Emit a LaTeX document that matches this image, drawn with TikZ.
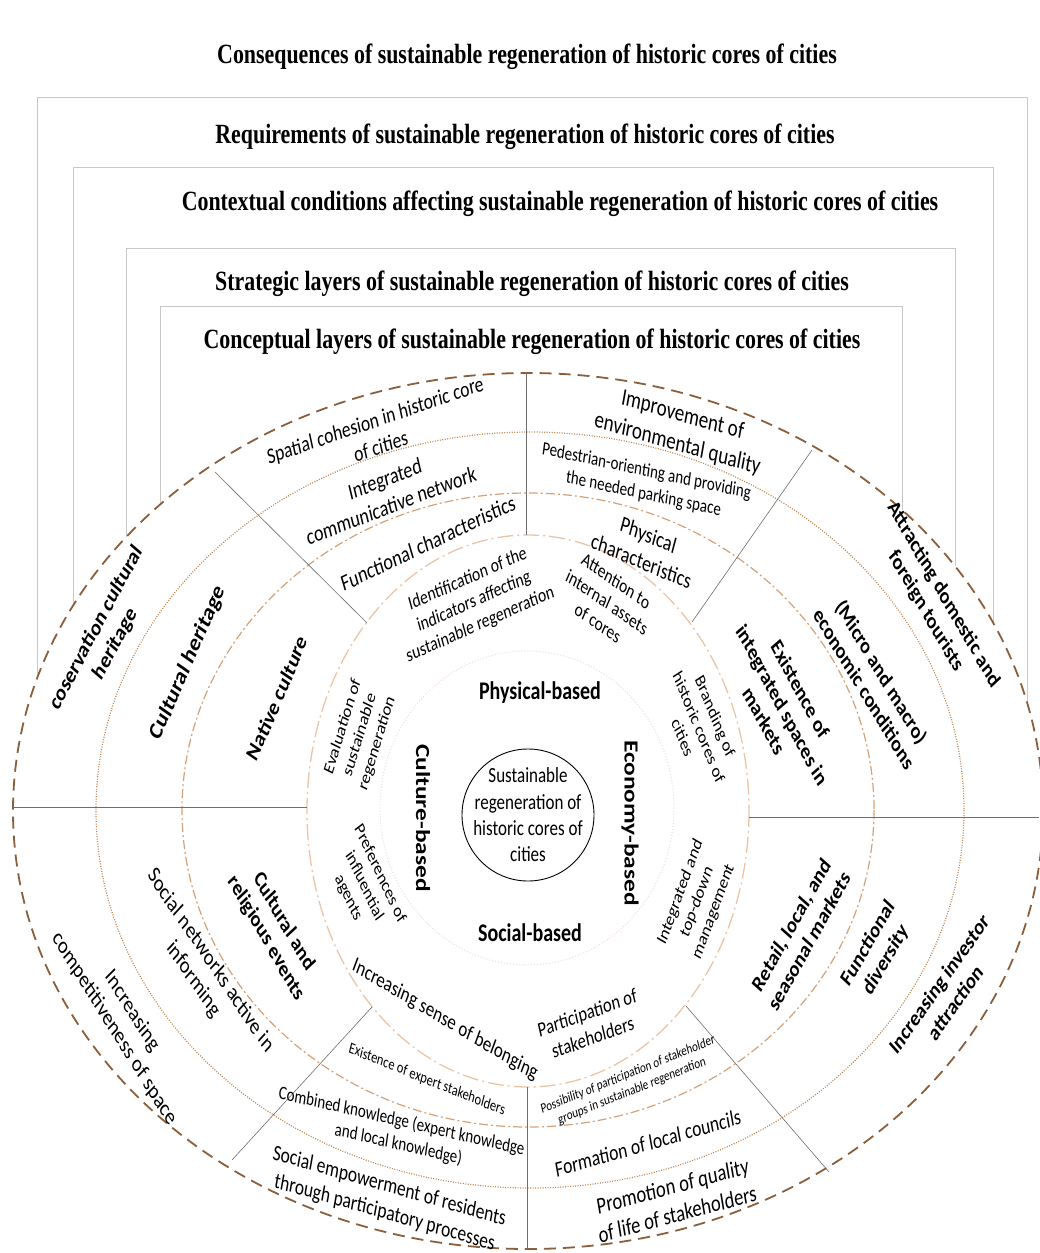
\documentclass[tikz,border=0pt]{standalone}
\usepackage{fontspec}
\setmainfont{Carlito}
\newfontfamily\titlefont{Liberation Serif}
\usepackage{tikz}

\definecolor{ringA}{RGB}{140,95,60}
\definecolor{ringB}{RGB}{190,135,85}
\definecolor{ringC}{RGB}{212,162,122}
\definecolor{ringD}{RGB}{236,196,168}
\definecolor{ringE}{RGB}{238,220,208}
\definecolor{boxgray}{RGB}{200,200,200}
\definecolor{divgray}{RGB}{110,110,110}

\begin{document}
\begin{tikzpicture}[x=1pt, y=-1pt,
    tilt/.style={yscale=1.27, rotate={atan2(sin(#1)/1.27,cos(#1))}},
    lbl/.style={align=center, inner sep=0pt, font=\fontsize{#1}{\fpeval{1.22*#1}}\selectfont},
    blbl/.style={align=center, inner sep=0pt, font=\bfseries\fontsize{#1}{\fpeval{1.22*#1}}\selectfont},
    title/.style={inner sep=0pt, yscale=1.27, font=\titlefont\bfseries\fontsize{21.9}{26}\selectfont},
    layerbox/.style={draw=boxgray, line width=0.7pt},
    divider/.style={draw=divgray, line width=0.6pt},
    outerring/.style={draw=ringA, line width=1.8pt, dash pattern=on 12pt off 7pt},
    reqring/.style={draw=ringB, line width=1.2pt, dash pattern=on 1pt off 1.5pt},
    ctxring/.style={draw=ringC, line width=1.2pt, dash pattern=on 9pt off 3pt on 2pt off 3pt},
    strring/.style={draw=ringD, line width=1.3pt, dash pattern=on 16pt off 4pt on 2pt off 4pt},
    conring/.style={draw=ringE, line width=1pt, dash pattern=on 1pt off 2pt}]

    \fill[white] (0,0) rectangle (1039,1253);
    \useasboundingbox (0,0) rectangle (1039,1253);

    % nested layer frames
    \foreach \l/\r/\t in {37/1027/97, 73/993/167, 126/955/248, 160/902/306}
        \draw[layerbox] (\l,{811-438*sqrt(1-((\l-528)/515)*((\l-528)/515))}) -- (\l,\t)
            -- (\r,\t) -- (\r,{811-438*sqrt(1-((\r-528)/515)*((\r-528)/515))});

    % layer titles
    \node[title] (t-cons) at (527,57) {Consequences of sustainable regeneration of historic cores of cities};
    \node[title] (t-req) at (525,137) {Requirements of sustainable regeneration of historic cores of cities};
    \node[title] (t-ctx) at (560,204) {Contextual conditions affecting sustainable regeneration of historic cores of cities};
    \node[title] (t-str) at (532,284) {Strategic layers of sustainable regeneration of historic cores of cities};
    \node[title] (t-con) at (532,342) {Conceptual layers of sustainable regeneration of historic cores of cities};

    % rings
    \draw[outerring] (528,811) ellipse [x radius=515, y radius=438];
    \draw[reqring] (530,810) ellipse [x radius=434, y radius=378];
    \draw[ctxring] (528,810) ellipse [x radius=346, y radius=317];
    \draw[strring] (528,811) ellipse [x radius=221, y radius=276];
    \draw[conring] (527,808) ellipse [x radius=147, y radius=157];

    % sector dividers
    \draw[divider] (367,623) -- (215,472);
    \draw[divider] (526,535) -- (526,373);
    \draw[divider] (692,622) -- (812,450);
    \draw[divider] (749,817) -- (1039,817);
    \draw[divider] (686,1006) -- (829,1172);
    \draw[divider] (527,1087) -- (527,1250);
    \draw[divider] (372,1007) -- (232,1160);
    \draw[divider] (307,807) -- (13,807);

    % core
    \node[draw, circle, minimum size=132, inner sep=0pt, line width=0.9pt] (core) at (528,815) {};
    \node[lbl=17, tilt=0] (core-txt) at (core) {Sustainable\\regeneration of\\historic cores of\\cities};

    % conceptual layer
    \node[blbl=20, tilt=0] (p-phy) at (540,693) {Physical-based};
    \node[blbl=20, tilt=-90] (p-eco) at (630,823) {Economy-based};
    \node[blbl=20, tilt=0] (p-soc) at (530,933) {Social-based};
    \node[blbl=20, tilt=-90] (p-cul) at (423,818) {Culture-based};

    % strategic layer
    \node[lbl=15.5, tilt=24] (s-tl) at (474,602) {Identification of the\\indicators affecting\\sustainable regeneration};
    \node[lbl=15.5, tilt=-35] (s-tr) at (607,602) {Attention to\\internal assets\\of cores};
    \node[lbl=15, tilt=-68] (s-r) at (699,727) {Branding of\\historic cores of\\cities};
    \node[lbl=15, tilt=70] (s-lr) at (697,902) {Integrated and\\top-down\\management};
    \node[lbl=16.5, tilt=20] (s-br) at (590,1025) {Participation of\\stakeholders};
    \node[lbl=17, tilt=-31] (s-bl) at (445,1020) {Increasing sense of belonging};
    \node[lbl=15, tilt=-65] (s-ll) at (364,886) {Preferences of\\influential\\agents};
    \node[lbl=15, tilt=73] (s-l) at (360,735) {Evaluation of\\sustainable\\regeneration};

    % contextual layer
    \node[lbl=18, tilt=25.6] (k-tl) at (428,543) {Functional characteristics};
    \node[lbl=18, tilt=-23] (k-tr) at (645,548) {Physical\\characteristics};
    \node[blbl=18, tilt=-62] (k-r) at (782,705) {Existence of\\integrated spaces in\\markets};
    \node[blbl=18, tilt=61] (k-lr) at (800,933) {Retail, local, and\\seasonal markets};
    \node[lbl=11, tilt=22] (k-br) at (630,1083) {Possibility of participation of stakeholder\\groups in sustainable regeneration};
    \node[lbl=12.5, tilt=-22] (k-bl) at (427,1080) {Existence of expert stakeholders};
    \node[blbl=18, tilt=-60] (k-ll) at (275,930) {Cultural and\\religious events};
    \node[blbl=18.5, tilt=67] (k-l) at (277,698) {Native culture};

    % requirements layer
    \node[lbl=18, tilt=21] (r-tl) at (388,492) {Integrated\\communicative network};
    \node[lbl=15, tilt=-12] (r-tr) at (645,483) {Pedestrian-orienting and providing\\the needed parking space};
    \node[blbl=18, tilt=-59] (r-r) at (873,680) {(Micro and macro)\\economic conditions};
    \node[blbl=18, tilt=60] (r-lr) at (877,952) {Functional\\diversity};
    \node[lbl=17.5, tilt=16] (r-br) at (648,1143) {Formation of local councils};
    \node[lbl=15, tilt=-13] (r-bl) at (400,1133) {Combined knowledge (expert knowledge\\and local knowledge)};
    \node[lbl=18.5, tilt=-56] (r-ll) at (202,970) {Social networks active in\\informing};
    \node[blbl=19.5, tilt=66.6] (r-l) at (188,663) {Cultural heritage};

    % consequences layer
    \node[lbl=17.5, tilt=19] (c-tl) at (378,433) {Spatial cohesion in historic core\\of cities};
    \node[lbl=19, tilt=-16] (c-tr) at (680,430) {Improvement of\\environmental quality};
    \node[blbl=18, tilt=-60] (c-r) at (935,603) {Attracting domestic and\\foreign tourists};
    \node[blbl=18, tilt=55] (c-lr) at (947,993) {Increasing investor\\attraction};
    \node[lbl=18.5, tilt=15] (c-br) at (675,1200) {Promotion of quality\\of life of stakeholders};
    \node[lbl=17.5, tilt=-16] (c-bl) at (387,1200) {Social empowerment of residents\\through participatory processes};
    \node[lbl=18.5, tilt=-58] (c-ll) at (123,1020) {Increasing\\competitiveness of space};
    \node[blbl=18.5, tilt=62] (c-l) at (106,636) {coservation cultural\\heritage};
\end{tikzpicture}
\end{document}
